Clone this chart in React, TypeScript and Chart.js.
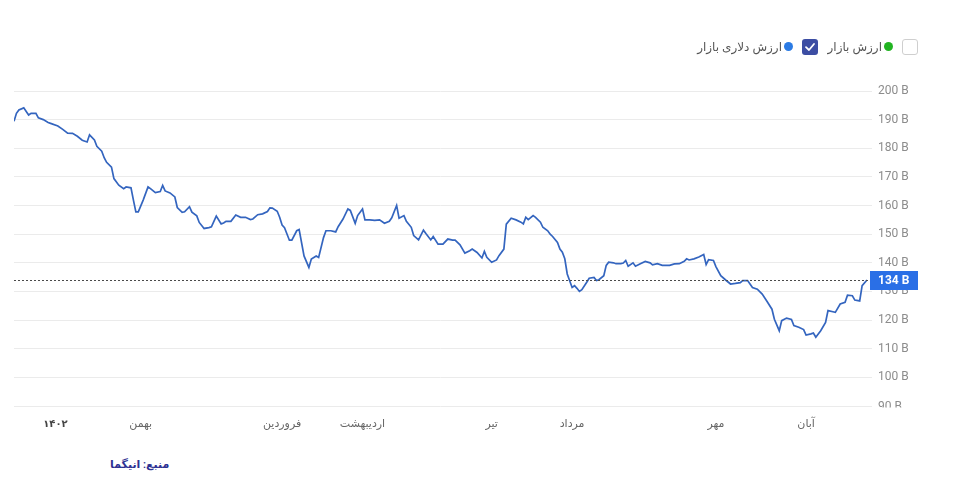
import React, { useEffect, useRef } from 'react';
import { Chart, registerables } from 'chart.js';

Chart.register(...registerables);

const FONT = "Roboto, 'DejaVu Sans', sans-serif";

// trading day offsets (days since start of the window)
const days = [
  0, 1, 2, 4, 6, 7, 9, 10, 12, 14, 15, 18, 20, 22, 24, 26, 28, 30, 31, 33, 34, 36, 37, 38, 40, 41, 43, 45, 46, 48, 49, 50, 51, 53, 55, 56, 58, 60, 61, 62, 64, 66, 67, 69, 70,
  72, 73, 75, 76, 78, 80, 81, 83, 85, 86, 87, 89, 91, 93, 95, 97, 98, 100, 102, 104, 105, 106, 108, 109, 110, 111, 113, 114, 116, 117, 119, 121, 122, 124, 125, 127, 128, 130, 132, 133, 135, 137,
  138, 140, 141, 143, 144, 146, 148, 150, 152, 154, 155, 157, 158, 160, 161, 163, 164, 166, 168, 169, 171, 172, 174, 176, 178, 180, 181, 183, 185, 187, 188, 190, 192, 193, 194, 196, 198, 199, 201, 202, 204, 206,
  208, 209, 210, 211, 213, 214, 216, 217, 219, 220, 221, 223, 224, 225, 226, 227, 229, 230, 231, 232, 233, 235, 236, 238, 239, 240, 242, 243, 244, 246, 247, 249, 250, 251, 252, 254, 255, 257, 259, 261, 262, 264, 266, 269, 271, 273, 275, 276,
  277, 279, 281, 283, 284, 285, 287, 288, 290, 292, 294, 296, 298, 299, 301, 302, 303, 305, 307, 309, 311, 312, 314, 315, 317, 319, 320, 322, 324, 325, 327, 328, 329, 331, 333, 334, 336, 337, 339, 341, 342, 344, 345, 347, 348, 350,
];

// market dollar value (billions)
const dollarValue = [
  189.4, 192.2, 193.4, 194.1, 191.6, 192.2, 192.2, 190.6, 190, 189, 188.7, 187.8, 186.6, 185.3, 185.2, 184.2, 182.8, 182.2, 184.7, 182.9, 180.7, 179, 176.7, 175.1, 173.4, 169.4, 167.1, 165.9, 166.5, 166.2, 161.9, 157.8, 157.8, 161.9, 166.5, 165.9, 164.5, 164.9, 167, 165.1, 164.4, 163, 159.3, 157.6, 157.8,
  159.6, 157.7, 156.4, 154.1, 152, 152.3, 152.6, 156.3, 153.6, 153.9, 154.5, 154.5, 156.7, 155.9, 155.9, 155.1, 155.3, 156.8, 157.1, 157.9, 159.2, 159.1, 158, 155.9, 153.2, 152.3, 147.9, 147.9, 151.2, 151.6, 142.4, 138.4, 141.3, 142.4, 141.9, 148.8, 151.2, 151.2, 150.8, 152.6, 155.3, 158.8,
  158.3, 153.8, 156.5, 158.8, 155, 155, 154.8, 155, 153.8, 154.5, 155.7, 160, 155.6, 156.5, 154.5, 152.4, 149.5, 148, 151.4, 150.2, 148, 149.2, 146.5, 146.5, 148.3, 147.9, 147.9, 146.3, 143.4, 144.2, 144.8, 143.6, 141.7, 144, 141.9, 140.2, 141, 142.5, 144.8, 153.5, 155.6, 155,
  154.2, 153.6, 155.9, 155.1, 156.5, 155.9, 154.2, 152.4, 151.2, 150, 149.2, 147.1, 144.8, 143.7, 141.4, 136.1, 131.4, 132, 131.1, 130, 130.6, 133.2, 134.6, 134.9, 133.8, 134.1, 135.5, 139.1, 140.2, 140, 139.7, 139.7, 139.9, 140.8, 138.8, 140, 138.8, 139.7, 140.5, 140, 139.3, 139.7, 139.1, 139.1, 139.6, 139.7, 140.5, 141.4,
  141, 141.4, 142, 142.9, 139.4, 141.1, 140.8, 138.7, 135.5, 134, 132.6, 132.8, 133.1, 133.8, 133.8, 132.6, 131.4, 130.8, 129.1, 126.5, 123.8, 120.3, 116.3, 119.8, 120.7, 120.2, 118.1, 117.5, 116.7, 114.8, 115.2, 115.5, 114, 116.3, 119.2, 123.3, 122.9, 122.7, 125.6, 126.2, 128.7, 128.5, 127, 126.7, 132, 134,
];

const monthTickDays = [17, 52, 110, 143, 196, 229, 288, 325];
const monthTickLabels = ['۱۴۰۲', 'بهمن', 'فروردین', 'اردیبهشت', 'تیر', 'مرداد', 'مهر', 'آبان'];
const yearTickLabel = '۱۴۰۲';

const yTickValues = [90, 100, 110, 120, 130, 140, 150, 160, 170, 180, 190, 200];
const yUnit = ' B';

const lastValue = 134;
const lastValueLabel = '134 B';

const legendItems = ['ارزش بازار', 'ارزش دلاری بازار'];
const sourceText = 'منبع: انیگما';

const W = 956;
const H = 435;

const overlayPlugin = {
  id: 'overlay',
  afterDatasetsDraw(chart: any) {
    const { ctx, chartArea, scales } = chart;
    const y = Math.round(scales.y.getPixelForValue(lastValue)) + 0.5;
    ctx.save();
    ctx.strokeStyle = '#4a4a4a';
    ctx.lineWidth = 1;
    ctx.setLineDash([2, 2]);
    ctx.beginPath();
    ctx.moveTo(chartArea.left, y);
    ctx.lineTo(chartArea.right + 3, y);
    ctx.stroke();
    ctx.setLineDash([]);
    ctx.fillStyle = '#2a6fe6';
    const bx = chartArea.right + 3;
    ctx.fillRect(bx, y - 9.5, 48, 19);
    ctx.fillStyle = '#ffffff';
    ctx.font = `bold 12px ${FONT}`;
    ctx.textBaseline = 'middle';
    ctx.textAlign = 'left';
    ctx.fillText(lastValueLabel, bx + 8, y + 0.5);
    ctx.restore();
  },
  afterDraw(chart: any) {
    const { ctx, chartArea, scales } = chart;
    const y = scales.y.getPixelForValue(yTickValues[0]);
    ctx.save();
    ctx.beginPath();
    ctx.rect(chartArea.right, 0, 100, chartArea.bottom + 1.5);
    ctx.clip();
    ctx.fillStyle = '#8c8c8c';
    ctx.font = `12px ${FONT}`;
    ctx.textBaseline = 'middle';
    ctx.textAlign = 'left';
    ctx.fillText(yTickValues[0] + yUnit, chartArea.right + 11, y + 1);
    ctx.restore();
  },
};

function LineChart() {
  const ref = useRef<HTMLCanvasElement | null>(null);
  useEffect(() => {
    if (!ref.current) return;
    const chart = new Chart(ref.current, {
      type: 'line',
      data: {
        datasets: [
          {
            label: legendItems[1],
            data: days.map((d, i) => ({ x: d, y: dollarValue[i] })),
            borderColor: '#3465bf',
            borderWidth: 1.7,
            pointRadius: 0,
            tension: 0,
            fill: false,
          },
        ],
      },
      options: {
        responsive: false,
        animation: false,
        layout: { padding: { left: 14, top: 91, right: 0, bottom: 0 } },
        plugins: { legend: { display: false }, tooltip: { enabled: false } },
        scales: {
          x: {
            type: 'linear',
            min: 0,
            max: 350,
            grid: { display: false },
            border: { display: false },
            afterBuildTicks: (s: any) => {
              s.ticks = monthTickDays.map((v) => ({ value: v }));
            },
            afterFit: (s: any) => {
              s.height = 29;
            },
            ticks: {
              autoSkip: false,
              maxRotation: 0,
              padding: 4,
              callback: (v: any) => {
                const i = monthTickDays.indexOf(Number(v));
                return i >= 0 ? monthTickLabels[i] : '';
              },
              color: (c: any) => (monthTickLabels[monthTickDays.indexOf(c.tick?.value)] === yearTickLabel ? '#444' : '#666'),
              font: (c: any) => {
                const isYear = monthTickLabels[monthTickDays.indexOf(c.tick?.value)] === yearTickLabel;
                return { family: FONT, size: isYear ? 10 : 11, weight: isYear ? 'bold' : 'normal' };
              },
            },
          },
          y: {
            position: 'right',
            min: 90,
            max: 200,
            afterBuildTicks: (s: any) => {
              s.ticks = yTickValues.map((v) => ({ value: v }));
            },
            afterFit: (s: any) => {
              s.width = 89;
            },
            grid: { color: '#ebebeb', tickLength: 5, drawTicks: true },
            border: { display: false },
            ticks: {
              padding: 6,
              color: '#8c8c8c',
              font: { family: FONT, size: 12 },
              callback: (v: any) => (Number(v) === yTickValues[0] ? '' : v + yUnit),
            },
          },
        },
      },
      plugins: [overlayPlugin],
    } as any);
    return () => chart.destroy();
  }, []);
  return <canvas ref={ref} width={W} height={H} style={{ position: 'absolute', left: 0, top: 0, width: W, height: H }} />;
}

export default function App() {
  const textStyle: React.CSSProperties = {
    position: 'absolute',
    top: 39,
    height: 17,
    lineHeight: '17px',
    fontFamily: FONT,
    fontSize: 12,
    color: '#555',
    direction: 'rtl',
    whiteSpace: 'nowrap',
  };
  return (
    <div style={{ position: 'fixed', left: 0, top: 0, width: 956, height: 483, background: '#fff', overflow: 'hidden' }}>
      <LineChart />
      {/* legend */}
      <div
        style={{
          position: 'absolute',
          left: 902,
          top: 39,
          width: 16,
          height: 16,
          border: '1px solid #cfcfcf',
          borderRadius: 3,
          boxSizing: 'border-box',
          background: '#fff',
        }}
      />
      <div style={{ position: 'absolute', left: 884, top: 42, width: 9, height: 9, borderRadius: '50%', background: '#22b422' }} />
      <div style={{ ...textStyle, right: 956 - 882 }}>{legendItems[0]}</div>
      <div
        style={{
          position: 'absolute',
          left: 802,
          top: 39,
          width: 16,
          height: 16,
          borderRadius: 3,
          background: '#3c4da3',
        }}
      >
        <svg width="16" height="16" viewBox="0 0 16 16" style={{ display: 'block' }}>
          <polyline points="4,8.2 7,11 12,5" fill="none" stroke="#fff" strokeWidth="1.8" strokeLinecap="round" strokeLinejoin="round" />
        </svg>
      </div>
      <div style={{ position: 'absolute', left: 784, top: 42, width: 9, height: 9, borderRadius: '50%', background: '#2b7be4' }} />
      <div style={{ ...textStyle, right: 956 - 782 }}>{legendItems[1]}</div>
      {/* source */}
      <div
        style={{
          position: 'absolute',
          left: 110,
          top: 458,
          fontFamily: FONT,
          fontSize: 11,
          fontWeight: 600,
          color: '#2e3192',
          direction: 'rtl',
          whiteSpace: 'nowrap',
        }}
      >
        {sourceText}
      </div>
    </div>
  );
}
